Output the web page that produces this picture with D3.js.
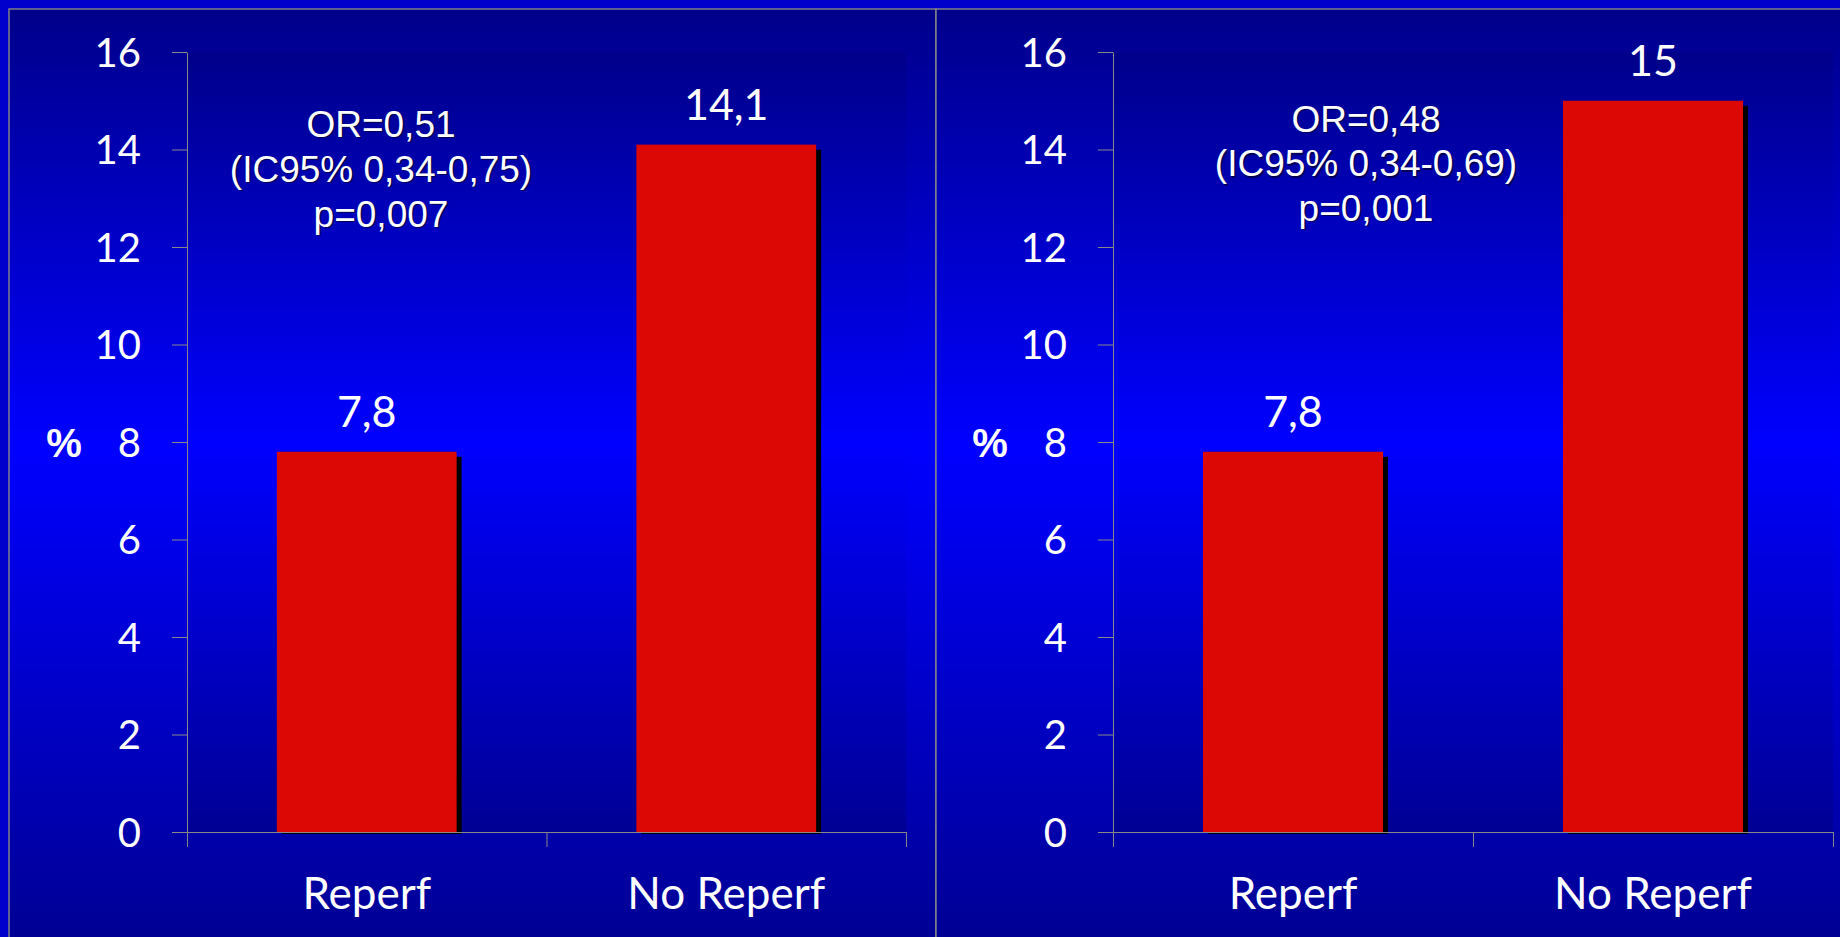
<!DOCTYPE html>
<html>
<head>
<meta charset="utf-8">
<script src="https://cdn.jsdelivr.net/npm/d3@7"></script>
<style>
  html, body { margin: 0; padding: 0; background: #0000cc; overflow: hidden; }
  svg { display: block; }
</style>
</head>
<body>
<svg id="chart" width="1840" height="937"></svg>
<script>
// Categories and values shown in both panels
const categories = ["Reperf", "No Reperf"];
const leftValues = [7.8, 14.1];
const rightValues = [7.8, 15];
const yTicks = [0, 2, 4, 6, 8, 10, 12, 14, 16];
const leftStats = ["OR=0,51", "(IC95% 0,34-0,75)", "p=0,007"];
const rightStats = ["OR=0,48", "(IC95% 0,34-0,69)", "p=0,001"];
const yUnit = "%";

const W = 1840, H = 937;
const svg = d3.select("#chart");
const defs = svg.append("defs");

const NAVY_TOP = "#00008a", NAVY_BOTTOM = "#000094", BRIGHT = "#0000ff";
const AXIS = "#878787";
const BAR = "#dc0806";
const labelFont = "Lato, 'Open Sans', sans-serif";
const statFont = "'Liberation Sans', Arial, sans-serif";

function vGrad(id, y1, y2, mid) {
  const g = defs.append("linearGradient").attr("id", id)
    .attr("gradientUnits", "userSpaceOnUse")
    .attr("x1", 0).attr("x2", 0).attr("y1", y1).attr("y2", y2);
  g.append("stop").attr("offset", 0).attr("stop-color", NAVY_TOP);
  g.append("stop").attr("offset", mid).attr("stop-color", BRIGHT);
  g.append("stop").attr("offset", 1).attr("stop-color", NAVY_BOTTOM);
}

// outer background
svg.append("rect").attr("width", W).attr("height", H).attr("fill", "#0000cc");
vGrad("panelGrad", 9, 937, 0.47);

const y = d3.scaleLinear().domain([0, 16]).range([832, 52]);
const fmt = v => String(v).replace(".", ",");

const panels = [
  { x0: 9, x1: 936, axisX: 187, plotEnd: 906, values: leftValues, stats: leftStats,
    statX: 381, statY: [136.7, 181.7, 226.7], id: "L" },
  { x0: 936, x1: 1860, axisX: 1113, plotEnd: 1833, values: rightValues, stats: rightStats,
    statX: 1366, statY: [131.7, 176, 220.5], id: "R" }
];

panels.forEach(p => {
  const g = svg.append("g");

  // panel frame
  g.append("rect")
    .attr("x", p.x0).attr("y", 9)
    .attr("width", p.x1 - p.x0).attr("height", H + 20)
    .attr("fill", "url(#panelGrad)")
    .attr("stroke", AXIS).attr("stroke-width", 1.4);

  // plot area gradient
  vGrad("plotGrad" + p.id, y(16), y(0), 0.5);
  g.append("rect")
    .attr("x", p.axisX).attr("y", y(16))
    .attr("width", p.plotEnd - p.axisX).attr("height", y(0) - y(16))
    .attr("fill", "url(#plotGrad" + p.id + ")");

  const x = d3.scaleBand().domain(categories)
    .range([p.axisX, p.plotEnd]).paddingInner(0.5).paddingOuter(0.25);

  const data = categories.map((c, i) => ({ c, v: p.values[i] }));

  // bar shadows
  g.selectAll(".shadow").data(data).join("rect")
    .attr("x", d => x(d.c) + 5)
    .attr("y", d => y(d.v) + 5)
    .attr("width", x.bandwidth())
    .attr("height", d => y(0) - y(d.v) - 3)
    .attr("fill", "#000000");

  // bars
  g.selectAll(".bar").data(data).join("rect")
    .attr("x", d => x(d.c))
    .attr("y", d => y(d.v))
    .attr("width", x.bandwidth())
    .attr("height", d => y(0) - y(d.v))
    .attr("fill", BAR);

  // y axis
  const ya = g.append("g")
    .attr("transform", `translate(${p.axisX},0)`)
    .call(d3.axisLeft(y).tickValues(yTicks).tickSize(15).tickSizeOuter(0).tickPadding(31));
  ya.select(".domain").attr("stroke", AXIS);
  ya.selectAll(".tick line").attr("stroke", AXIS);
  ya.selectAll("text").attr("fill", "#ffffff")
    .attr("font-family", labelFont).attr("font-size", 40).attr("dy", "0.36em");

  // x axis baseline with ticks at band boundaries
  const bounds = d3.range(categories.length + 1).map(i => x.range()[0] + i * x.step());
  g.append("line")
    .attr("x1", p.axisX - 15).attr("x2", p.plotEnd)
    .attr("y1", y(0) + 0.5).attr("y2", y(0) + 0.5)
    .attr("stroke", AXIS);
  g.selectAll(".xtick").data(bounds).join("line")
    .attr("x1", d => d + 0.5).attr("x2", d => d + 0.5)
    .attr("y1", y(0)).attr("y2", y(0) + 15)
    .attr("stroke", AXIS);

  // category labels
  g.selectAll(".cat").data(categories).join("text")
    .attr("x", d => x(d) + x.bandwidth() / 2)
    .attr("y", y(0) + 77)
    .attr("text-anchor", "middle")
    .attr("fill", "#ffffff")
    .attr("font-family", labelFont).attr("font-size", 44)
    .text(d => d);

  // value labels
  g.selectAll(".val").data(data).join("text")
    .attr("x", d => x(d.c) + x.bandwidth() / 2)
    .attr("y", d => y(d.v) - 25)
    .attr("text-anchor", "middle")
    .attr("fill", "#ffffff")
    .attr("font-family", labelFont).attr("font-size", 43)
    .text(d => fmt(d.v));

  // unit label
  g.append("text")
    .attr("x", p.axisX - 123).attr("y", y(8) + 15)
    .attr("text-anchor", "middle")
    .attr("fill", "#ffffff")
    .attr("font-family", statFont).attr("font-size", 40).attr("font-weight", "bold")
    .text(yUnit);

  // statistics block with a soft drop shadow
  const st = g.append("g");
  [["#000033", 1.6], ["#ffffff", 0]].forEach(([col, off]) => {
    st.selectAll(null).data(p.stats).join("text")
      .attr("x", p.statX + off)
      .attr("y", (d, i) => p.statY[i] + off)
      .attr("text-anchor", "middle")
      .attr("fill", col)
      .attr("opacity", off ? 0.7 : 1)
      .attr("font-family", statFont).attr("font-size", 37)
      .text(d => d);
  });
});
</script>
</body>
</html>
